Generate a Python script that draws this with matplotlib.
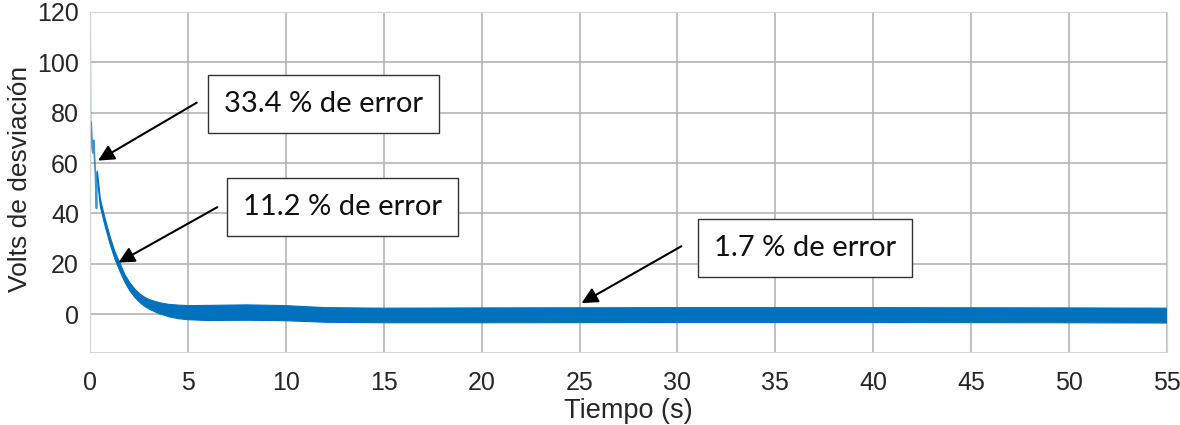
import matplotlib.pyplot as plt

# initial transient (thin line)
t_spike = [0.0, 0.0, 0.02, 0.06, 0.11, 0.15, 0.19, 0.23, 0.28, 0.33, 0.36]
v_spike = [2, 118, 77, 76, 66, 64, 69, 62, 55, 42, 56]

# envelope of the oscillating band
t_band = [0.35, 0.5, 0.75, 1.0, 1.25, 1.5, 1.75, 2.0, 2.25, 2.5, 2.75, 3.0,
          3.5, 4.0, 4.5, 5.0, 6.0, 8.0, 10.0, 12.0, 15.0, 20.0, 30.0, 40.0, 50.0, 55.0]
band_hi = [57, 46, 38, 31, 25, 20.5, 16, 12.8, 10.3, 8.4, 7.0, 6.0,
           4.8, 4.1, 3.8, 3.6, 3.7, 3.9, 3.6, 2.8, 2.6, 2.7, 2.8, 2.8, 2.7, 2.6]
band_lo = [54, 43, 35, 28, 22, 17.3, 13, 9.6, 7.0, 5.0, 3.4, 2.2,
           0.4, -0.8, -1.6, -2.0, -2.3, -2.2, -2.4, -3.0, -3.2, -3.2, -3.1, -3.1, -3.2, -3.3]

# annotations: label, arrow head (t, V), box centre (t, V)
notes = [
    ("33.4 % de error", (0.41, 61.0), (11.9, 83.3)),
    ("11.2 % de error", (1.45, 20.5), (12.9, 42.7)),
    ("1.7 % de error", (25.1, 4.4), (36.5, 26.4)),
]
arrow_tails = [(5.45, 84.0), (6.5, 42.5), (30.2, 27.0)]

blue = "#0072BD"
tick_font = "Liberation Sans"

fig = plt.figure(figsize=(11.8, 4.25), dpi=100)
ax = fig.add_axes([0.0763, 0.1718, 0.9127, 0.80])

ax.plot(t_spike[:2], v_spike[:2], color="#8cc4e6", lw=1.5)
ax.plot(t_spike[1:], v_spike[1:], color=blue, lw=1.3, alpha=0.75)
ax.fill_between(t_band, band_lo, band_hi, color=blue, lw=0.8, edgecolor=blue)

ax.set_xlim(0, 55)
ax.set_ylim(-15, 120)
ax.set_xticks(range(0, 56, 5))
ax.set_yticks(range(0, 121, 20))
ax.grid(True, color="#b4b4b4", lw=1.2)
ax.set_axisbelow(True)
for s in ax.spines.values():
    s.set_color("#d4d4d4")
ax.tick_params(length=0, labelsize=18, labelcolor="#262626")
ax.tick_params(axis="x", pad=14)
ax.tick_params(axis="y", pad=8)
for lab in ax.get_xticklabels() + ax.get_yticklabels():
    lab.set_fontfamily(tick_font)

ax.set_xlabel("Tiempo (s)", fontsize=19.5, color="#262626", family=tick_font, labelpad=2)
ax.set_ylabel("Volts de desviación", fontsize=19, color="#262626", family=tick_font)
ax.yaxis.set_label_coords(-0.054, 0.51)

for (label, head, centre), tail in zip(notes, arrow_tails):
    ax.annotate("", xy=head, xytext=tail,
                arrowprops=dict(arrowstyle="-|>", color="black", lw=1.5, mutation_scale=24,
                                shrinkA=0, shrinkB=0))
    ax.text(centre[0], centre[1], label, ha="center", va="center", fontsize=21,
            family="Lato", color="#111111",
            bbox=dict(boxstyle="square,pad=0.55", fc="white", ec="#333333", lw=1.0))

fig.savefig("out.png", dpi=100)
